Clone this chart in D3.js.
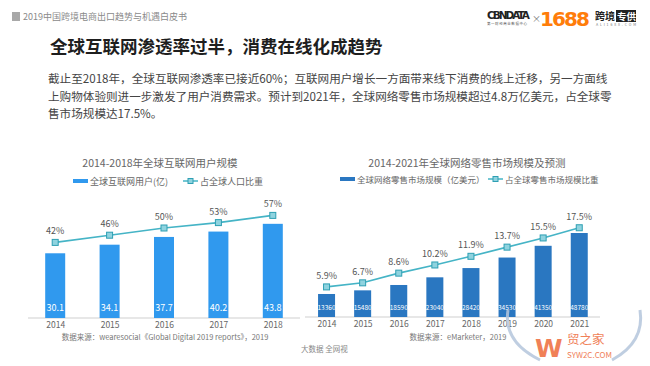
<!DOCTYPE html>
<html>
<head>
<meta charset="utf-8">
<script src="https://cdn.jsdelivr.net/npm/d3@7"></script>
<style>
  body { margin: 0; background: #fff; }
  svg { display: block; font-family: "Noto Sans CJK SC", "Noto Sans", sans-serif; }
</style>
</head>
<body>
<svg id="chart"></svg>
<script>
let width = 650
let height = 366

// left chart data
let userYears = ['2014', '2015', '2016', '2017', '2018']
let userValues = [30.1, 34.1, 37.7, 40.2, 43.8]
let userPct = [42, 46, 50, 53, 57]

// right chart data
let retailYears = ['2014', '2015', '2016', '2017', '2018', '2019', '2020', '2021']
let retailValues = [13360, 15480, 18590, 23040, 28420, 34530, 41350, 48780]
let retailPct = [5.9, 6.7, 8.6, 10.2, 11.9, 13.7, 15.5, 17.5]

let paragraph = [
    '截止至2018年，全球互联网渗透率已接近60%；互联网用户增长一方面带来线下消费的线上迁移，另一方面线',
    '上购物体验则进一步激发了用户消费需求。预计到2021年，全球网络零售市场规模超过4.8万亿美元，占全球零',
    '售市场规模达17.5%。'
]

let lineColor = '#45b4c6'
let svg = d3.select('#chart').attr('width', width).attr('height', height)

// header
svg.append('rect').attr('x', 12).attr('y', 12).attr('width', 8).attr('height', 9).attr('fill', '#a8a8a8')
svg.append('text').attr('x', 23).attr('y', 20).attr('font-size', 9).attr('fill', '#8a8a8a')
    .text('2019中国跨境电商出口趋势与机遇白皮书')

// logo
svg.append('text').attr('x', 487).attr('y', 19).attr('font-size', 10.5).attr('font-weight', 'bold')
    .attr('fill', '#222').attr('font-family', 'DejaVu Sans').attr('textLength', 43).text('CBNDATA')
svg.append('text').attr('x', 487).attr('y', 25).attr('font-size', 3.5).attr('fill', '#555')
    .attr('textLength', 40).text('第一财经商业数据中心')
svg.append('text').attr('x', 532).attr('y', 22).attr('font-size', 9).attr('fill', '#777').text('×')
svg.append('text').attr('x', 540).attr('y', 26).attr('font-size', 20).attr('font-weight', 'bold')
    .attr('fill', '#ff7d0a').attr('font-family', 'DejaVu Sans').attr('textLength', 50).text('1688')
svg.append('text').attr('x', 595).attr('y', 20).attr('font-size', 10).attr('font-weight', 'bold')
    .attr('fill', '#222').text('跨境')
svg.append('rect').attr('x', 616).attr('y', 10).attr('width', 20).attr('height', 12).attr('fill', '#222')
svg.append('text').attr('x', 617).attr('y', 20).attr('font-size', 9.5).attr('font-weight', 'bold')
    .attr('fill', '#fff').text('专供')
svg.append('text').attr('x', 596).attr('y', 26).attr('font-size', 3.5).attr('fill', '#777')
    .attr('textLength', 40).text('A L I 1 6 8 8 . C O M')

// title + paragraph
svg.append('text').attr('x', 50).attr('y', 53).attr('font-size', 17.5).attr('font-weight', 'bold')
    .attr('fill', '#1e1e1e').text('全球互联网渗透率过半，消费在线化成趋势')

svg.selectAll('.para')
    .data(paragraph)
    .enter()
    .append('text')
    .attr('class', 'para')
    .attr('x', 48)
    .attr('y', (d, i) => 83 + i * 17.5)
    .attr('font-size', 11.6)
    .attr('fill', '#444')
    .text(d => d)

let drawChart = (opt) => {
    let g = svg.append('g')
    let x = d3.scalePoint().domain(opt.years).range(opt.xRange).padding(0.5)
    let yBar = d3.scaleLinear().domain(opt.barDomain).range([opt.base, opt.barTop])
    let yPct = d3.scaleLinear().domain(opt.pctDomain).range([opt.base, opt.pctTop])

    // chart title
    g.append('text').attr('x', opt.titleX).attr('y', 167).attr('text-anchor', 'middle')
        .attr('font-size', 10.5).attr('fill', '#666').text(opt.title)

    // legend
    let lg = g.append('g').attr('transform', 'translate(' + opt.legendX + ',' + opt.legendY + ')')
    lg.append('rect').attr('x', 0).attr('y', -2).attr('width', 15).attr('height', 4).attr('fill', opt.barColor)
    lg.append('text').attr('x', 17).attr('y', 3.5).attr('font-size', opt.legendFont).attr('fill', '#666').text(opt.barName)
    lg.append('line').attr('x1', opt.lineLegendDx).attr('x2', opt.lineLegendDx + 15)
        .attr('y1', 0).attr('y2', 0).attr('stroke', lineColor).attr('stroke-width', 1.5)
    lg.append('rect').attr('x', opt.lineLegendDx + 5).attr('y', -2.5).attr('width', 5).attr('height', 5)
        .attr('fill', '#8fd3df').attr('stroke', '#2e9fb3').attr('stroke-width', 1)
    lg.append('text').attr('x', opt.lineLegendDx + 17).attr('y', 3.5).attr('font-size', opt.legendFont)
        .attr('fill', '#666').text(opt.lineName)

    // axis
    let xAxis = d3.axisBottom(x).tickSize(0).tickPadding(4)
    let ax = g.append('g')
        .attr('transform', 'translate(0, ' + opt.base + ')')
        .call(xAxis)
    ax.select('.domain').attr('stroke', '#cfcfcf').attr('d', 'M' + opt.axisX[0] + ',0H' + opt.axisX[1])
    ax.selectAll('text').attr('font-size', 8.5).attr('fill', '#666')
        .attr('font-family', '"Noto Sans CJK SC", sans-serif')

    // bars
    g.selectAll('.bar')
        .data(opt.values)
        .enter()
        .append('rect')
        .attr('class', 'bar')
        .attr('x', (d, i) => x(opt.years[i]) - opt.barWidth / 2)
        .attr('y', d => yBar(d))
        .attr('width', opt.barWidth)
        .attr('height', d => opt.base - yBar(d))
        .attr('fill', opt.barColor)

    g.selectAll('.barLabel')
        .data(opt.values)
        .enter()
        .append('text')
        .attr('class', 'barLabel')
        .attr('x', (d, i) => x(opt.years[i]))
        .attr('y', opt.base - 7)
        .attr('text-anchor', 'middle')
        .attr('font-size', opt.valueFont)
        .attr('fill', '#fff')
        .text(d => d)

    // line
    let line = d3.line()
        .x((d, i) => x(opt.years[i]))
        .y(d => yPct(d))
    g.append('path')
        .datum(opt.pct)
        .attr('d', line)
        .attr('fill', 'none')
        .attr('stroke', lineColor)
        .attr('stroke-width', 1.6)

    g.selectAll('.marker')
        .data(opt.pct)
        .enter()
        .append('rect')
        .attr('class', 'marker')
        .attr('x', (d, i) => x(opt.years[i]) - 3)
        .attr('y', d => yPct(d) - 3)
        .attr('width', 6)
        .attr('height', 6)
        .attr('fill', '#8fd3df')
        .attr('stroke', '#2e9fb3')
        .attr('stroke-width', 1)

    g.selectAll('.pctLabel')
        .data(opt.pct)
        .enter()
        .append('text')
        .attr('class', 'pctLabel')
        .attr('x', (d, i) => x(opt.years[i]))
        .attr('y', d => yPct(d) - 8)
        .attr('text-anchor', 'middle')
        .attr('font-size', 9)
        .attr('fill', '#555')
        .text(d => d + '%')

    // source
    g.append('text').attr('x', opt.sourceX).attr('y', 340).attr('text-anchor', 'middle')
        .attr('font-size', 7.5).attr('fill', '#777').text(opt.source)
}

drawChart({
    years: userYears, values: userValues, pct: userPct,
    xRange: [28, 300], axisX: [28, 300],
    base: 318, barDomain: [0, 50], barTop: 210.5, pctDomain: [0, 60], pctTop: 210,
    barWidth: 20, barColor: '#3099ee', valueFont: 9,
    title: '2014-2018年全球互联网用户规模', titleX: 160,
    legendX: 73, legendY: 181, lineLegendDx: 110, legendFont: 9,
    barName: '全球互联网用户(亿)', lineName: '占全球人口比重',
    source: '数据来源：wearesocial《Global Digital 2019 reports》，2019', sourceX: 165
})

drawChart({
    years: retailYears, values: retailValues, pct: retailPct,
    xRange: [308.5, 597.3], axisX: [305, 600],
    base: 317, barDomain: [0, 50000], barTop: 230.9, pctDomain: [0, 20], pctTop: 215,
    barWidth: 17, barColor: '#2a77c1', valueFont: 6.5,
    title: '2014-2021年全球网络零售市场规模及预测', titleX: 467,
    legendX: 340, legendY: 179, lineLegendDx: 148, legendFont: 8.5,
    barName: '全球网络零售市场规模（亿美元）', lineName: '占全球零售市场规模比重',
    source: '数据来源：eMarketer，2019', sourceX: 458
})

// footer
svg.append('text').attr('x', 301).attr('y', 352).attr('font-size', 7.5).attr('fill', '#888').text('大数据  全网视')

// watermark, kept below the year labels
let wm = svg.append('g').attr('opacity', 0.85)
wm.append('path').attr('d', 'M508,310 Q503,342 540,360').attr('fill', 'none').attr('stroke', '#b5c6dc').attr('stroke-width', 3)
wm.append('path').attr('d', 'M640,310 Q645,342 612,360').attr('fill', 'none').attr('stroke', '#b5c6dc').attr('stroke-width', 3)
wm.append('text').attr('x', 535).attr('y', 357).attr('font-size', 25).attr('font-weight', 'bold')
    .attr('fill', '#ee6a3a').attr('font-family', 'DejaVu Sans').text('W')
wm.append('text').attr('x', 567).attr('y', 344).attr('font-size', 12.5).attr('fill', '#ee6a3a').text('贸之家')
wm.append('text').attr('x', 567).attr('y', 358).attr('font-size', 8).attr('fill', '#ee6a3a').text('SYW2C.COM')
</script>
</body>
</html>
